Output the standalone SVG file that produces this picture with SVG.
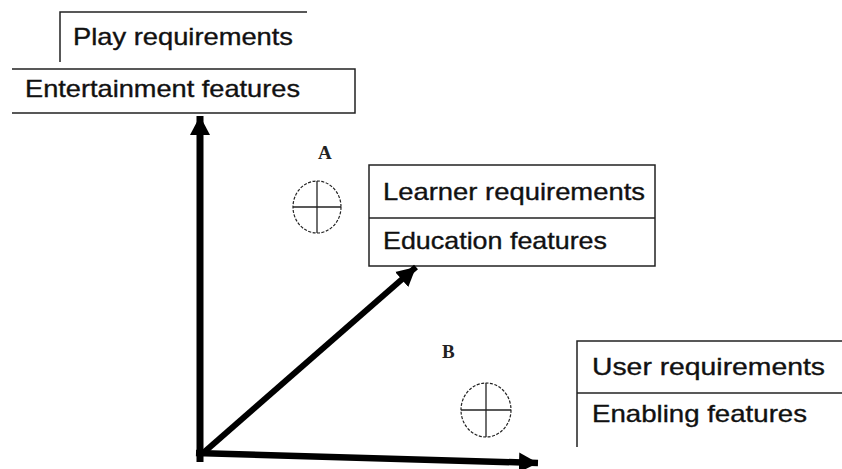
<svg xmlns="http://www.w3.org/2000/svg" width="842" height="469" viewBox="0 0 842 469">
<style>
.box{fill:none;stroke:#222;stroke-width:1.5}
.lbl{font-family:"Liberation Sans",Arial,sans-serif;font-size:24px;fill:#111;stroke:#111;stroke-width:0.35}
.pt{font-family:"Liberation Serif","Times New Roman",serif;font-size:19px;font-weight:bold;fill:#222}
.circ{fill:none;stroke:#222;stroke-width:1.2;stroke-dasharray:3 1.5}
.cross{stroke:#222;stroke-width:1.3}
.arrow{stroke:#000;fill:none}
</style>
<defs>
<marker id="ah" markerUnits="userSpaceOnUse" markerWidth="22" markerHeight="22" viewBox="0 0 22 22" refX="19" refY="11" orient="auto">
<path d="M0,1 L19,11 L0,21 z" fill="#000"/>
</marker>
</defs>
<rect width="842" height="469" fill="#fff"/>
<g id="play">
<path class="box" d="M60,62 V12 H307"/>
<text class="lbl" x="73" y="45" textLength="220" lengthAdjust="spacingAndGlyphs">Play requirements</text>
</g>
<g id="entertainment">
<path class="box" d="M12,69 H355 V113 H12"/>
<text class="lbl" x="25" y="97" textLength="275" lengthAdjust="spacingAndGlyphs">Entertainment features</text>
</g>
<g id="learner">
<rect class="box" x="369" y="165" width="286" height="101"/>
<line class="box" x1="369" y1="218" x2="655" y2="218"/>
<text class="lbl" x="383" y="200" textLength="262" lengthAdjust="spacingAndGlyphs">Learner requirements</text>
<text class="lbl" x="383" y="249" textLength="224" lengthAdjust="spacingAndGlyphs">Education features</text>
</g>
<g id="user">
<path class="box" d="M577,447 V341 H842"/>
<line class="box" x1="577" y1="393" x2="842" y2="393"/>
<text class="lbl" x="592" y="375" textLength="233" lengthAdjust="spacingAndGlyphs">User requirements</text>
<text class="lbl" x="592" y="422" textLength="215" lengthAdjust="spacingAndGlyphs">Enabling features</text>
</g>
<g id="pointA">
<text class="pt" x="318" y="159">A</text>
<ellipse class="circ" cx="317" cy="207" rx="24" ry="26"/>
<line class="cross" x1="293" y1="207" x2="341" y2="207"/>
<line class="cross" x1="317" y1="181" x2="317" y2="233"/>
</g>
<g id="pointB">
<text class="pt" x="442" y="358">B</text>
<ellipse class="circ" cx="486" cy="410" rx="25" ry="27"/>
<line class="cross" x1="461" y1="410" x2="511" y2="410"/>
<line class="cross" x1="486" y1="383" x2="486" y2="437"/>
</g>
<g id="connectors">
<line class="arrow" x1="200" y1="462" x2="200" y2="116" stroke-width="7" marker-end="url(#ah)"/>
<line class="arrow" x1="202" y1="454" x2="416" y2="267" stroke-width="6" marker-end="url(#ah)"/>
<line class="arrow" x1="196" y1="453" x2="538" y2="463" stroke-width="6.5" marker-end="url(#ah)"/>
</g>
</svg>
